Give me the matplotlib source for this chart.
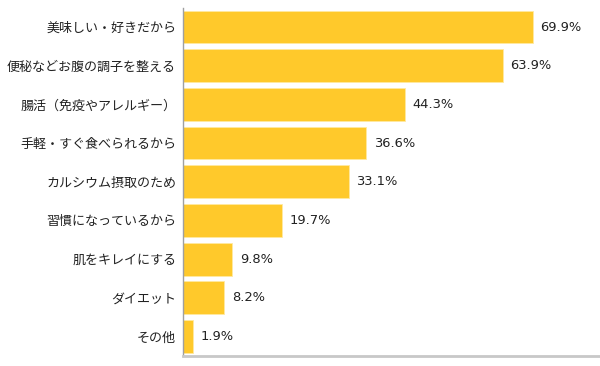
import matplotlib
matplotlib.use("Agg")
import matplotlib.pyplot as plt

categories = ["美味しい・好きだから", "便秘などお腹の調子を整える", "腸活（免疫やアレルギー）",
              "手軽・すぐ食べられるから", "カルシウム摂取のため", "習慣になっているから",
              "肌をキレイにする", "ダイエット", "その他"]
values = [69.9, 63.9, 44.3, 36.6, 33.1, 19.7, 9.8, 8.2, 1.9]
value_labels = ["69.9%", "63.9%", "44.3%", "36.6%", "33.1%", "19.7%", "9.8%", "8.2%", "1.9%"]

plt.rcParams['font.family'] = ['Noto Sans CJK JP', 'DejaVu Sans']

fig = plt.figure(figsize=(6.0, 3.66), dpi=100)
ax = fig.add_axes([0.305, 0.028, 0.695, 0.951])

y = list(range(len(categories)))
ax.barh(y, values, height=0.85, color="#FFC92B", edgecolor="#FFE9A0", linewidth=0.6)
ax.set_ylim(len(categories) - 0.5, -0.5)
ax.set_xlim(0, 83.4)

ax.set_yticks(y)
ax.set_yticklabels(categories, fontsize=9.4, color="#222222")
ax.tick_params(axis="y", length=0, pad=5)
ax.set_xticks([])

for yi, v, lab in zip(y, values, value_labels):
    ax.text(v + 1.55, yi, lab, va="center", ha="left", fontsize=9.4,
            color="#222222", family=["DejaVu Sans"])

for s in ["top", "right"]:
    ax.spines[s].set_visible(False)
ax.spines["left"].set_color("#A0A0A0")
ax.spines["left"].set_linewidth(1.0)
ax.spines["bottom"].set_color("#C8C8C8")
ax.spines["bottom"].set_linewidth(2.0)

fig.savefig("out.png", dpi=100)
